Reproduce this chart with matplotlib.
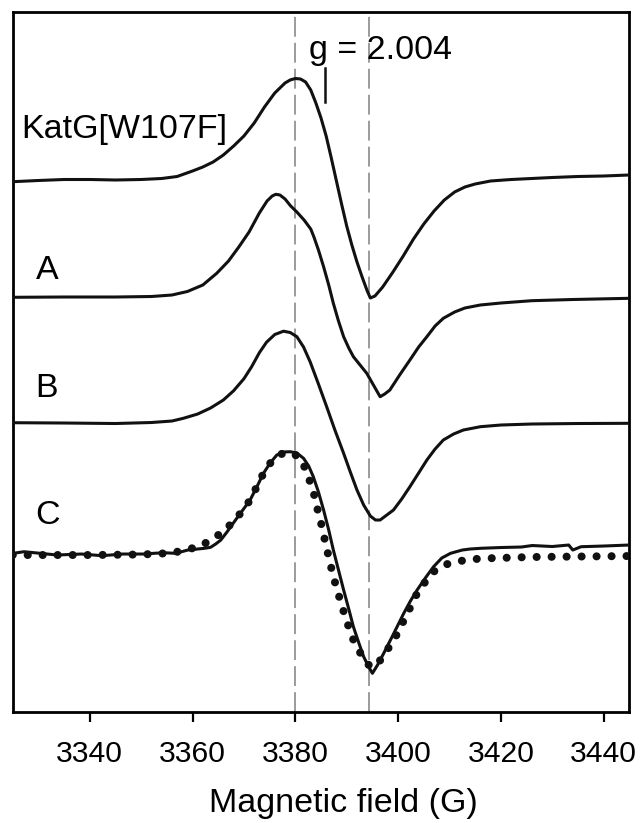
import numpy as np
import matplotlib
matplotlib.use('Agg')
import matplotlib.pyplot as plt

plt.rcParams['font.family'] = ['Liberation Sans', 'DejaVu Sans']

# EPR spectra, field in G, intensity in arbitrary units (relative to own baseline)
field_katg = [3325, 3330, 3335, 3340, 3345, 3350, 3354, 3357, 3360, 3362,
              3364, 3366, 3368, 3370, 3372, 3374, 3376, 3378, 3379, 3380,
              3381, 3382, 3383, 3384, 3385, 3386, 3387, 3388, 3389, 3390,
              3391, 3392, 3393, 3394, 3394.6, 3395.5, 3397, 3399, 3401, 3403,
              3405, 3407, 3409, 3411, 3413, 3415, 3418, 3422, 3426, 3430,
              3435, 3440, 3445]
int_katg = [-0.2, 1, 2, 2, 1.5, 2, 3, 5, 10.5, 14.5,
            19.5, 26.5, 35.5, 45.5, 58.5, 74.5, 88.5, 98.5, 101.5, 103,
            102.5, 99.5, 91.5, 78.5, 63.5, 45.5, 23.5, 0.5, -22.5, -44.5,
            -63.5, -80.5, -95.5, -109.5, -116.5, -114.5, -105.5, -90.5, -74.5, -57.5,
            -42.5, -29.5, -18.5, -10.5, -5.5, -2.5, 0.5, 2, 3, 4,
            5, 5.5, 6.5]

field_a = [3325, 3335, 3345, 3352, 3356, 3359, 3362, 3364.7, 3367, 3369,
           3371, 3373, 3374.5, 3375.5, 3376.2, 3377, 3378, 3379.1, 3380.3, 3381.7,
           3383, 3383.6, 3384.5, 3385.5, 3386.5, 3387.4, 3388.4, 3389.4, 3390.4, 3391.3,
           3392.6, 3393.9, 3395.2, 3396.5, 3397.4, 3398.4, 3400.3, 3402.3, 3404, 3405.6,
           3407.2, 3408.8, 3411, 3413, 3416, 3420, 3426, 3434, 3445]
int_a = [0, 0.3, 0.3, 0.8, 2.3, 5.8, 12.3, 24, 36.3, 50.3,
         65.3, 84.3, 96.3, 101.3, 103, 102.3, 98.3, 91.3, 85.3, 77.3,
         68.3, 60.6, 47.3, 30.6, 12.3, -6, -23.7, -39.4, -50.7, -59.4,
         -67.7, -76, -87.7, -99.4, -96.7, -92.7, -77.7, -62.7, -49.7, -39.4,
         -28.7, -21, -14.7, -10.7, -7.7, -5.7, -3.4, -2.2, -1]

field_b = [3325, 3335, 3345, 3352, 3356, 3358.2, 3361, 3363.5, 3366, 3368,
           3370, 3371.5, 3373, 3374.4, 3376, 3377.7, 3379, 3380.3, 3381.6, 3382.9,
           3384.5, 3386.1, 3387.7, 3389.4, 3390.7, 3392, 3393.3, 3394.6, 3395.6, 3396.5,
           3397.8, 3399.1, 3400.7, 3402.3, 3404, 3405.6, 3407.2, 3408.8, 3410.8, 3412.7,
           3416, 3420, 3426, 3435, 3445]
int_b = [0, -0.3, -0.8, 0.2, 1.7, 4.4, 8.7, 14.7, 22.7, 32,
         44, 56, 70, 80.5, 88.2, 91.5, 90.2, 86, 75.7, 60.7,
         38.7, 16, -7.3, -30.6, -49.3, -67.3, -82.3, -93.3, -97.3, -97.3,
         -92.3, -87.3, -76.3, -64, -50.3, -37.3, -26.3, -17.3, -11.3, -7.3,
         -4, -2.3, -1.3, -0.8, -0.6]

field_c = [3325.1, 3327.2, 3330.4, 3333.6, 3338.4, 3342.4, 3346.4, 3350.4, 3354.3, 3356.7,
           3359.1, 3362.3, 3363.5, 3364.5, 3365.5, 3366.7, 3367.9, 3369.5, 3371.2, 3372.5,
           3373.8, 3375.1, 3376.4, 3377.7, 3379.0, 3380.3, 3381.6, 3382.6, 3383.5, 3384.5,
           3385.5, 3386.5, 3387.4, 3388.4, 3389.4, 3390.4, 3391.3, 3392.3, 3393.3, 3394.2,
           3395.0, 3396.0, 3397.2, 3399.2, 3401.1, 3402.4, 3403.7, 3405.3, 3406.9, 3408.5,
           3410.2, 3412.5, 3414.0, 3416.0, 3420.0, 3424.0, 3426.1, 3430.0, 3433.2, 3434.0,
           3435.6, 3440.0, 3445.0]
int_c = [-0.3, 1.3, -0.3, -2, -1, -2.7, -1, -1, 0.3, -0.3,
         3, 4.7, 5.7, 9, 13, 21, 29.7, 41, 53, 66,
         79.7, 90, 98, 101, 101.3, 100, 94.7, 87, 76.3, 61,
         43, 23, 3, -17, -37, -56, -73.7, -89, -103.7, -113,
         -120.3, -112, -100.3, -80, -60.3, -48, -37, -25, -13.7, -5,
         -0.3, 3, 4, 4.7, 5.5, 6, 7.5, 6.5, 8, 3,
         6.3, 7, 8]

# simulated spectrum for C (dotted)
field_sim = [3325.0, 3340.0, 3350.0, 3356.0, 3361.8, 3363.7, 3365.7, 3367.9, 3369.6, 3371.2,
             3372.5, 3373.8, 3375.1, 3376.7, 3378.3, 3379.6, 3381.3, 3382.2, 3383.4, 3384.0,
             3384.8, 3386.1, 3387.4, 3389.1, 3391.0, 3392.3, 3393.9, 3394.8, 3395.9, 3397.4,
             3399.0, 3400.2, 3401.3, 3402.6, 3403.7, 3405.3, 3406.9, 3408.9, 3411.3, 3414.1,
             3417.3, 3425.8, 3445.2]
int_sim = [-2, -2, -1.5, 0, 7, 14.7, 19.7, 31.3, 41.3, 53,
           66.3, 79.7, 89.7, 98, 100.7, 99.7, 93, 79.7, 64.7, 49.7,
           34.7, 4.7, -23.7, -53.7, -83.7, -97, -110.3, -114, -112, -100.3,
           -88.7, -77, -65.3, -52, -40.3, -28.7, -18.7, -12, -8.7, -6.3,
           -5.3, -4, -3]

g_field = 3385.8          # g = 2.004
dash_fields = [3380.0, 3394.3]
labels = ['KatG[W107F]', 'A', 'B', 'C']

fig = plt.figure(figsize=(6.41, 8.23), dpi=100)
ax = fig.add_axes([0.0198, 0.1352, 0.962, 0.8506])

offsets = [530.2, 414.4, 289.0, 158.7]
label_pos = [(3326.6, 573.7), (3329.6, 432.7), (3329.4, 315.0), (3329.3, 187.7)]

for xv in dash_fields:
    ax.axvline(xv, color='#808080', lw=1.1, ls=(0, (13, 4)), zorder=1)

traces = [(field_katg, int_katg), (field_a, int_a), (field_b, int_b), (field_c, int_c)]
for (f, s), off in zip(traces, offsets):
    ax.plot(f, np.array(s) + off, color='#111111', lw=2.2,
            solid_joinstyle='round', solid_capstyle='round', zorder=3)

ax.plot(field_sim, np.array(int_sim) + offsets[3], color='#111111', lw=5.8,
        ls=(0, (0.01, 1.85)), dash_capstyle='round', zorder=4)

for lab, (x, y) in zip(labels, label_pos):
    ax.text(x, y, lab, fontsize=24.5, va='baseline', ha='left')

# g marker
ax.plot([g_field, g_field], [609.7, 643.7], color='#111111', lw=1.8)
ax.text(3382.7, 652.4, 'g = 2.004', fontsize=24.5, va='baseline', ha='left')

ax.set_xlim(3325, 3445)
ax.set_ylim(0, 700)
ax.set_yticks([])
ax.set_xticks(np.arange(3340, 3441, 20))
ax.tick_params(axis='x', direction='out', length=7.2, width=1.6, pad=13, labelsize=21.7)
for sp in ax.spines.values():
    sp.set_linewidth(2.0)

ax.set_xlabel('Magnetic field (G)', fontsize=24.5, va='baseline')
ax.xaxis.set_label_coords(0.5357, -0.1433)

fig.savefig('out.png', dpi=100)
